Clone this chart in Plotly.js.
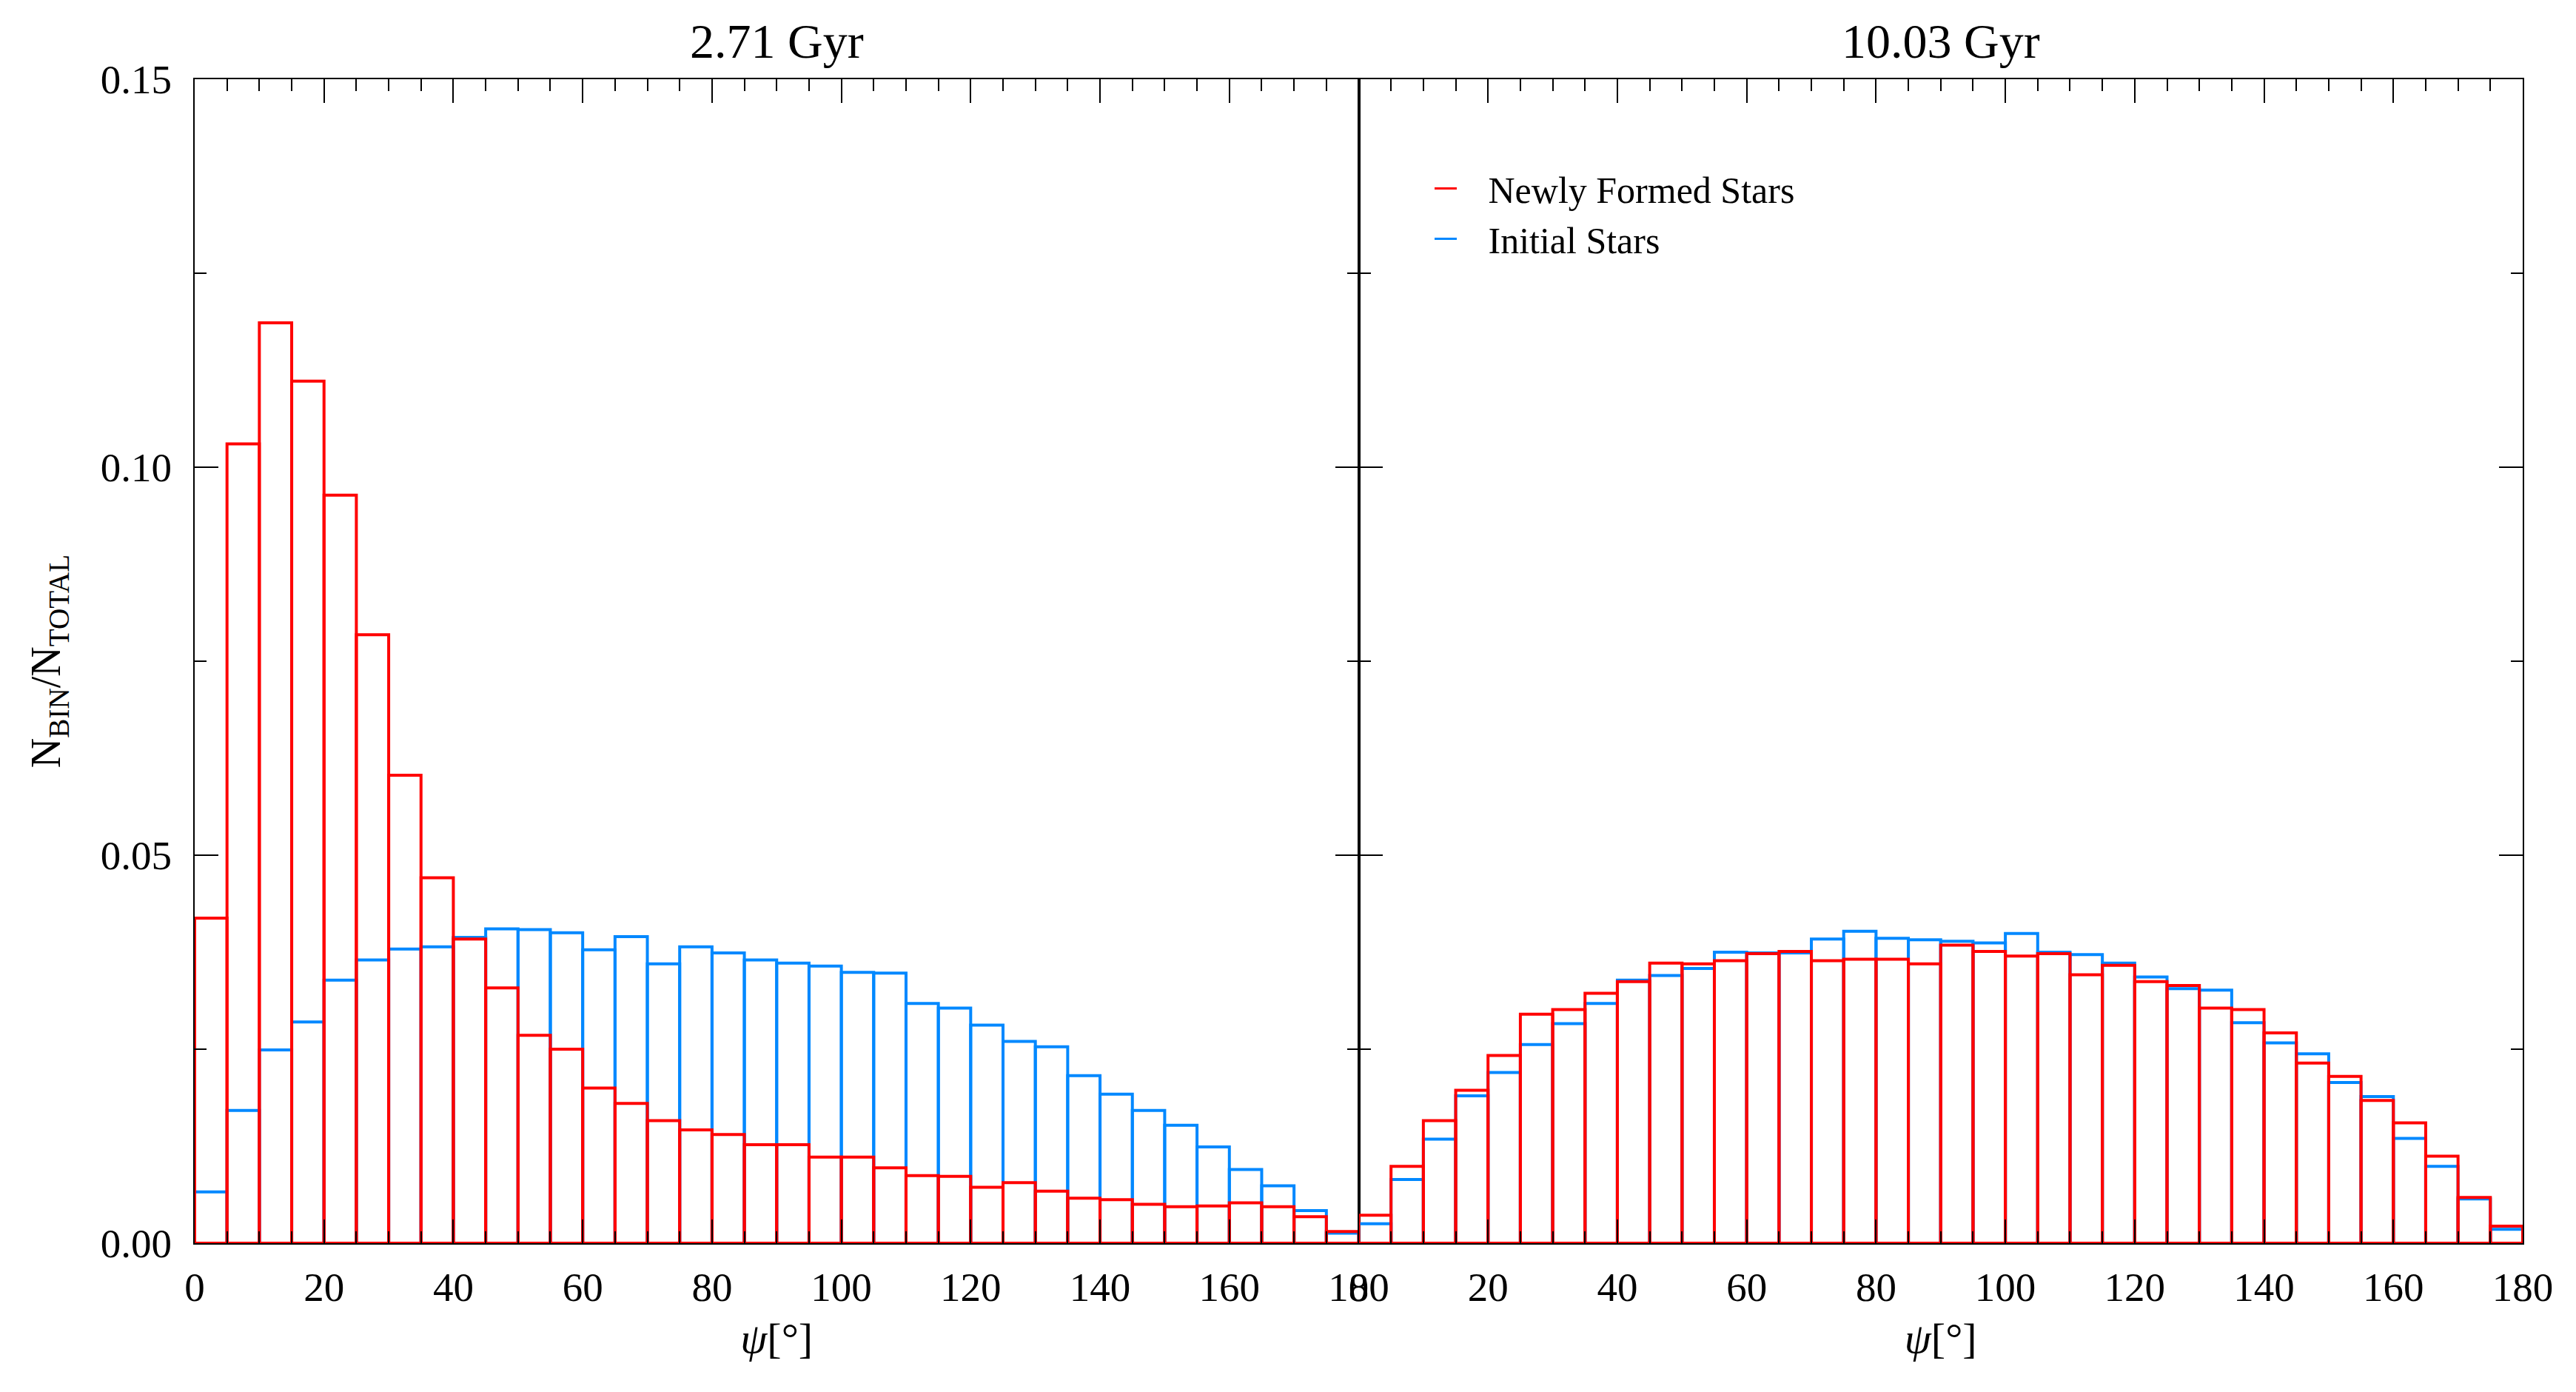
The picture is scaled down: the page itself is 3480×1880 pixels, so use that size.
<!DOCTYPE html>
<html>
<head>
<meta charset="utf-8">
<script src="https://cdn.plot.ly/plotly-3.0.1.min.js"></script>
<style>
  html, body { margin: 0; padding: 0; background: #ffffff; }
  #plot { width: 3480px; height: 1880px; }
</style>
</head>
<body>
<div id="plot"></div>
<script>
// bin centres, 5 degree bins from 0 to 180
const psiBins = [2.5, 7.5, 12.5, 17.5, 22.5, 27.5, 32.5, 37.5, 42.5, 47.5, 52.5, 57.5,
                 62.5, 67.5, 72.5, 77.5, 82.5, 87.5, 92.5, 97.5, 102.5, 107.5, 112.5, 117.5,
                 122.5, 127.5, 132.5, 137.5, 142.5, 147.5, 152.5, 157.5, 162.5, 167.5, 172.5, 177.5];

// 2.71 Gyr
const newStarsEarly = [0.0419, 0.1030, 0.1186, 0.1111, 0.0964, 0.0784, 0.0603, 0.0471, 0.0392, 0.0329, 0.0268, 0.0250,
                       0.0200, 0.0180, 0.0158, 0.0146, 0.0140, 0.0127, 0.0127, 0.0111, 0.0111, 0.0097, 0.0087, 0.0086,
                       0.0072, 0.0078, 0.0067, 0.0058, 0.0056, 0.0050, 0.0047, 0.0048, 0.0052, 0.0047, 0.0034, 0.0015];
const initStarsEarly = [0.0066, 0.0171, 0.0249, 0.0285, 0.0339, 0.0365, 0.0379, 0.0382, 0.0394, 0.0405, 0.0404, 0.0400,
                        0.0378, 0.0395, 0.0360, 0.0382, 0.0374, 0.0365, 0.0361, 0.0357, 0.0349, 0.0348, 0.0309, 0.0303,
                        0.0281, 0.0260, 0.0253, 0.0216, 0.0192, 0.0171, 0.0152, 0.0124, 0.0095, 0.0074, 0.0042, 0.0013];

// 10.03 Gyr
const newStarsLate = [0.0036, 0.0099, 0.0158, 0.0197, 0.0242, 0.0295, 0.0301, 0.0322, 0.0337, 0.0361, 0.0360, 0.0364,
                      0.0373, 0.0376, 0.0364, 0.0366, 0.0366, 0.0360, 0.0384, 0.0376, 0.0370, 0.0373, 0.0346, 0.0358,
                      0.0337, 0.0332, 0.0303, 0.0301, 0.0271, 0.0232, 0.0215, 0.0184, 0.0155, 0.0112, 0.0059, 0.0022];
const initStarsLate = [0.0025, 0.0082, 0.0134, 0.0190, 0.0220, 0.0256, 0.0283, 0.0309, 0.0339, 0.0345, 0.0354, 0.0375,
                       0.0374, 0.0374, 0.0392, 0.0402, 0.0393, 0.0391, 0.0389, 0.0387, 0.0399, 0.0375, 0.0372, 0.0361,
                       0.0343, 0.0328, 0.0326, 0.0284, 0.0258, 0.0244, 0.0207, 0.0189, 0.0135, 0.0099, 0.0057, 0.0018];

const panelTitles = ["2.71 Gyr", "10.03 Gyr"];
const seriesNames = ["Newly Formed Stars", "Initial Stars"];

const RED = "#ff0000";
const BLUE = "#0088ff";
const FONT = "Liberation Serif";
const GAP = "\u00a0\u00a0\u00a0"; // room between legend line and its text

function histTrace(values, color, xa, ya) {
    return {
        type: "bar",
        x: psiBins,
        y: values,
        width: 5,
        xaxis: xa,
        yaxis: ya,
        marker: { color: "rgba(0,0,0,0)", line: { color: color, width: 4 } },
        showlegend: false,
        hoverinfo: "x+y"
    };
}

// empty traces, only there to give the legend its short line symbols
function legendTrace(name, color) {
    return {
        type: "scatter",
        mode: "lines",
        x: [null],
        y: [null],
        name: GAP + name,
        line: { color: color, width: 3 },
        xaxis: "x2",
        yaxis: "y2"
    };
}

const traces = [
    histTrace(initStarsEarly, BLUE, "x", "y"),
    histTrace(newStarsEarly, RED, "x", "y"),
    histTrace(initStarsLate, BLUE, "x2", "y2"),
    histTrace(newStarsLate, RED, "x2", "y2"),
    legendTrace(seriesNames[0], RED),
    legendTrace(seriesNames[1], BLUE)
];

const xCommon = {
    range: [0, 180],
    tick0: 0,
    dtick: 20,
    ticks: "inside",
    ticklen: 32,
    tickwidth: 2,
    tickcolor: "#000",
    minor: { dtick: 5, ticks: "inside", ticklen: 16, tickwidth: 2, tickcolor: "#000" },
    showline: true,
    linecolor: "#000",
    linewidth: 2,
    mirror: "ticks",
    showgrid: false,
    zeroline: false,
    ticklabelstandoff: 10,
    tickfont: { family: FONT, size: 55, color: "#000" },
    title: { text: "<i>ψ</i>[°]", font: { family: FONT, size: 58, color: "#000" }, standoff: 18 }
};

const yCommon = {
    range: [0, 0.15],
    tick0: 0,
    dtick: 0.05,
    tickformat: ".2f",
    ticks: "inside",
    ticklen: 32,
    tickwidth: 2,
    tickcolor: "#000",
    minor: { dtick: 0.025, ticks: "inside", ticklen: 16, tickwidth: 2, tickcolor: "#000" },
    showline: true,
    linecolor: "#000",
    linewidth: 2,
    mirror: "ticks",
    showgrid: false,
    zeroline: false,
    tickfont: { family: FONT, size: 55, color: "#000" }
};

const layout = {
    width: 3480,
    height: 1880,
    margin: { l: 263, r: 72, t: 107, b: 201 },
    paper_bgcolor: "#ffffff",
    plot_bgcolor: "#ffffff",
    font: { family: FONT, color: "#000" },
    barmode: "overlay",
    xaxis: Object.assign({}, xCommon, { domain: [0, 0.5], anchor: "y" }),
    yaxis: Object.assign({}, yCommon, {
        domain: [0, 1],
        anchor: "x",
        ticklabelstandoff: 18,
        title: { text: "N<sub>BIN</sub>/N<sub>TOTAL</sub>", font: { family: FONT, size: 56, color: "#000" }, standoff: 36 }
    }),
    xaxis2: Object.assign({}, xCommon, { domain: [0.5, 1], anchor: "y2" }),
    yaxis2: Object.assign({}, yCommon, { domain: [0, 1], anchor: "x2", showticklabels: false }),
    legend: {
        x: 0.531,
        y: 0.931,
        xanchor: "left",
        yanchor: "top",
        bgcolor: "rgba(0,0,0,0)",
        font: { family: FONT, size: 50, color: "#000" },
        itemwidth: 30,
        tracegroupgap: 0
    },
    annotations: [
        { text: panelTitles[0], xref: "paper", yref: "paper", x: 0.25, y: 1.033, xanchor: "center", yanchor: "middle",
          showarrow: false, font: { family: FONT, size: 66, color: "#000" } },
        { text: panelTitles[1], xref: "paper", yref: "paper", x: 0.75, y: 1.033, xanchor: "center", yanchor: "middle",
          showarrow: false, font: { family: FONT, size: 66, color: "#000" } }
    ]
};

Plotly.newPlot("plot", traces, layout, { displayModeBar: false, staticPlot: true });
</script>
</body>
</html>
